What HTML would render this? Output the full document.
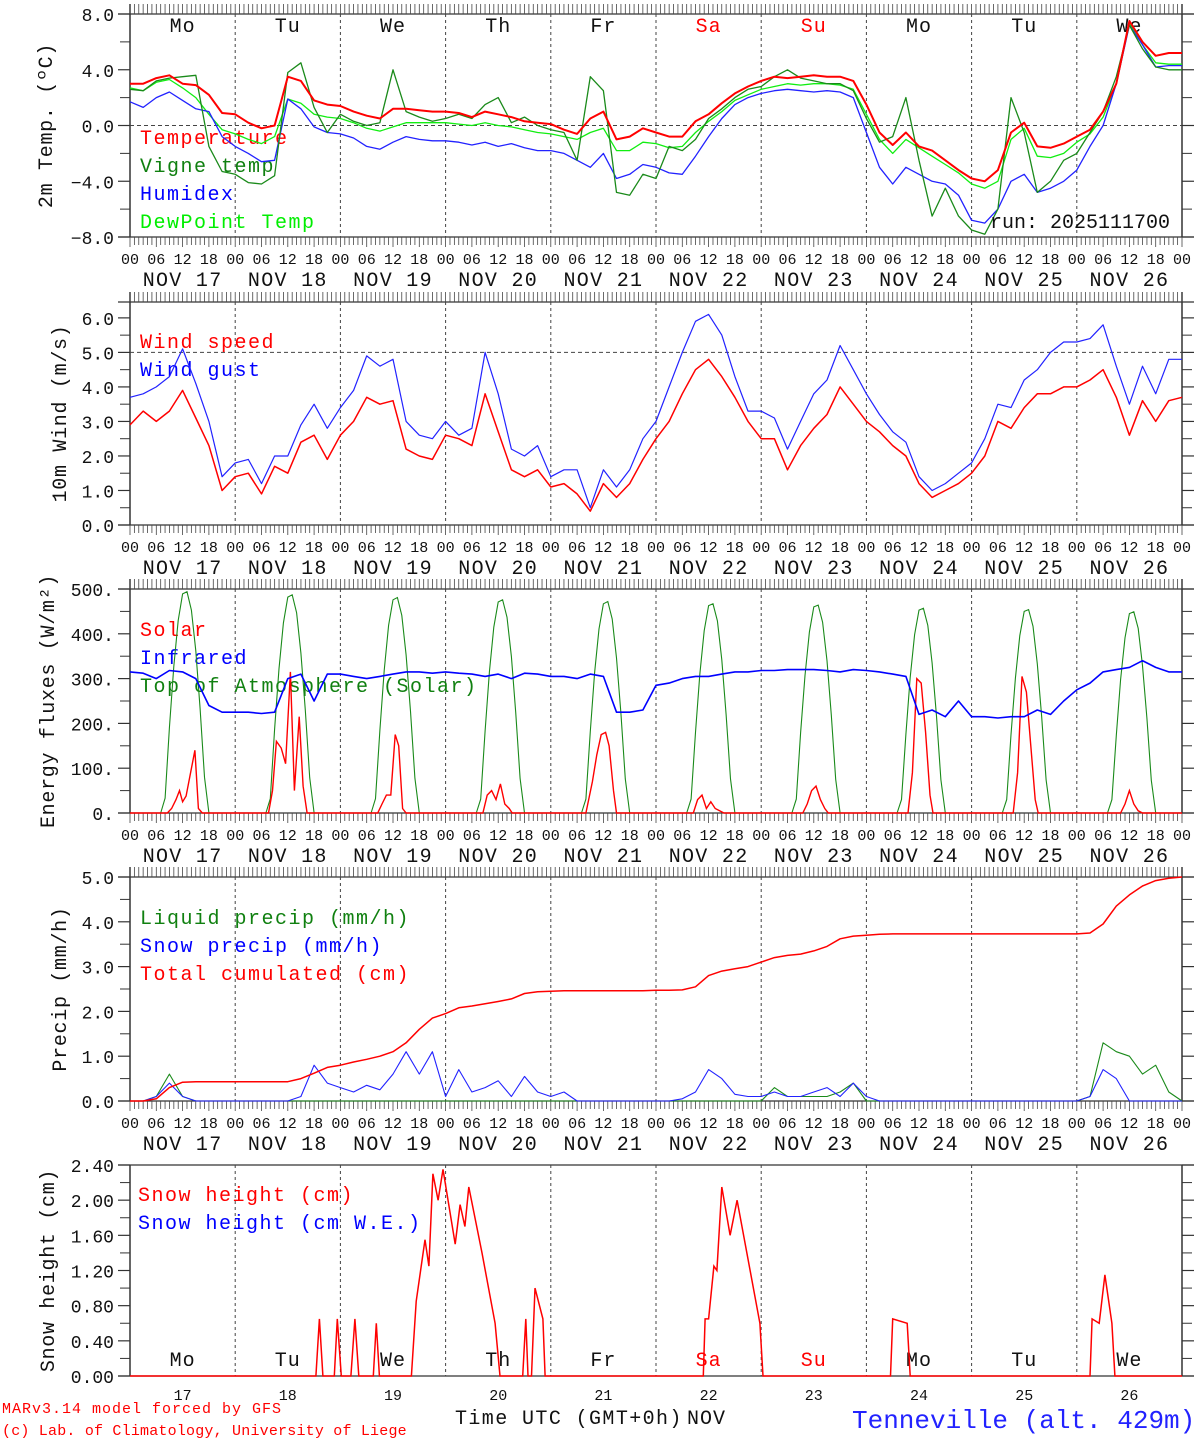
<!DOCTYPE html>
<html><head><meta charset="utf-8"><style>
html,body{margin:0;padding:0;background:#fff}
svg{display:block;font-family:"Liberation Mono","DejaVu Sans Mono",monospace}
</style></head><body>
<svg id="chart" width="1194" height="1440" viewBox="0 0 1194 1440" xmlns="http://www.w3.org/2000/svg"></svg>
<script>
const dayDates=["17","18","19","20","21","22","23","24","25","26"];
const dayNames=["Mo","Tu","We","Th","Fr","Sa","Su","Mo","Tu","We"];
const hourLabels=["00","06","12","18"];
const tempT=[3.0,3.0,3.4,3.6,3.0,2.9,2.2,0.9, 0.8,0.2,-0.2,0.0,3.5,3.2,1.8,1.5, 1.4,1.0,0.7,0.5,1.2,1.2,1.1,1.0, 1.0,0.9,0.6,1.0,0.8,0.6,0.3,0.2, 0.1,-0.3,-0.6,0.5,1.0,-1.0,-0.8,-0.2, -0.5,-0.8,-0.8,0.3,0.8,1.6,2.3,2.8, 3.2,3.5,3.4,3.5,3.6,3.5,3.5,3.2, 1.5,-0.5,-1.4,-0.5,-1.5,-1.8,-2.5,-3.2, -3.8,-4.0,-3.2,-0.5,0.2,-1.5,-1.6,-1.3, -0.8,-0.3,1.0,3.0,7.5,6.0,5.0,5.2,5.2];
const tempVigne=[2.6,2.5,3.2,3.4,3.5,3.6,-1.5,-3.3, -3.5,-4.1,-4.2,-3.6,3.8,4.5,1.3,-0.5, 0.8,0.3,0.0,0.2,4.0,1.0,0.6,0.3, 0.5,0.8,0.5,1.5,2.0,0.2,0.6,0.0, -0.3,-0.5,-2.5,3.5,2.5,-4.8,-5.0,-3.5, -3.8,-1.5,-1.8,-1.0,0.5,1.2,2.0,2.6, 2.8,3.5,4.0,3.4,3.2,3.0,3.0,2.5, 0.5,-1.2,-0.8,2.0,-2.5,-6.5,-4.5,-6.5, -7.5,-7.8,-6.0,2.0,-0.5,-4.8,-4.0,-2.5, -2.0,-0.5,1.0,3.5,7.2,5.5,4.2,4.0,4.0];
const tempHumidex=[1.7,1.3,2.0,2.4,1.8,1.2,1.0,-0.8, -1.5,-2.0,-2.6,-2.5,1.9,1.2,-0.1,-0.5, -0.6,-0.9,-1.5,-1.7,-1.2,-0.8,-1.0,-1.1, -1.1,-1.2,-1.4,-1.2,-1.5,-1.3,-1.6,-1.8, -1.8,-2.0,-2.5,-3.0,-2.0,-3.8,-3.5,-2.8, -3.0,-3.4,-3.5,-2.2,-0.8,0.5,1.5,2.0, 2.3,2.5,2.6,2.5,2.4,2.5,2.4,2.0, -0.5,-3.0,-4.2,-3.0,-3.5,-4.0,-4.2,-5.0, -6.8,-7.0,-6.0,-4.0,-3.5,-4.8,-4.5,-4.0, -3.2,-1.5,0.0,3.0,7.2,5.8,4.2,4.3,4.3];
const tempDew=[2.7,2.5,3.1,3.3,2.7,2.0,0.8,-0.3, -0.6,-1.0,-1.3,-0.8,1.9,1.6,0.8,0.6, 0.5,0.2,-0.2,-0.4,-0.1,0.2,0.2,0.2, 0.2,0.1,0.0,0.2,0.0,-0.1,-0.3,-0.5, -0.6,-0.8,-1.0,-0.5,-0.2,-1.8,-1.8,-1.2, -1.3,-1.6,-1.5,-0.5,0.3,1.0,1.8,2.2, 2.6,2.8,3.0,2.9,3.0,3.0,2.9,2.6, 0.8,-1.0,-2.0,-1.0,-1.6,-2.2,-2.8,-3.4, -4.2,-4.5,-4.0,-1.0,-0.2,-2.2,-2.3,-2.0, -1.2,-0.6,0.6,3.0,7.3,5.8,4.5,4.4,4.4];
const windSpeed=[2.9,3.3,3.0,3.3,3.9,3.1,2.3,1.0, 1.4,1.5,0.9,1.7,1.5,2.4,2.6,1.9, 2.6,3.0,3.7,3.5,3.6,2.2,2.0,1.9, 2.6,2.5,2.3,3.8,2.7,1.6,1.4,1.6, 1.1,1.2,0.9,0.4,1.2,0.8,1.2,1.9, 2.5,3.0,3.8,4.5,4.8,4.3,3.7,3.0, 2.5,2.5,1.6,2.3,2.8,3.2,4.0,3.5, 3.0,2.7,2.3,2.0,1.2,0.8,1.0,1.2, 1.5,2.0,3.0,2.8,3.4,3.8,3.8,4.0, 4.0,4.2,4.5,3.7,2.6,3.6,3.0,3.6,3.7];
const windGust=[3.7,3.8,4.0,4.3,5.1,4.1,3.0,1.4, 1.8,1.9,1.2,2.0,2.0,2.9,3.5,2.8, 3.4,3.9,4.9,4.6,4.8,3.0,2.6,2.5, 3.0,2.6,2.8,5.0,3.8,2.2,2.0,2.3, 1.4,1.6,1.6,0.5,1.6,1.1,1.6,2.5, 3.0,4.0,5.0,5.9,6.1,5.5,4.3,3.3, 3.3,3.1,2.2,3.0,3.8,4.2,5.2,4.5, 3.8,3.2,2.7,2.4,1.4,1.0,1.2,1.5, 1.8,2.5,3.5,3.4,4.2,4.5,5.0,5.3, 5.3,5.4,5.8,4.6,3.5,4.6,3.8,4.8,4.8];
const infrared=[315,312,300,318,315,300,240,225, 225,225,222,225,300,310,250,310, 310,305,300,305,310,315,315,312, 315,312,310,305,310,300,312,310, 305,305,300,310,305,225,225,230, 285,290,300,305,305,310,315,315, 318,318,320,320,320,318,315,320, 318,315,310,305,220,230,215,250, 215,215,212,215,215,230,220,250, 275,290,315,320,325,340,325,315,315];
const toaHours=[7,8,9,10,11,12,13,14,15,16,17,18];
const toaDaily=[[0,33,190,327,430,489,494,453,362,233,80,0],[0,32,187,322,424,482,487,447,357,230,79,0],[0,32,185,318,419,476,481,441,353,227,78,0],[0,31,183,315,415,471,476,437,349,225,77,0],[0,31,182,313,411,467,472,433,346,223,76,0],[0,31,180,309,407,463,467,429,342,220,76,0],[0,31,179,307,404,460,464,426,340,219,75,0],[0,30,176,303,398,453,457,419,335,216,74,0],[0,30,175,301,396,450,454,417,333,214,74,0],[0,30,173,298,391,445,449,412,329,212,73,0]];
const solarT=[0,8.5,9.5,10.5,11.3,12,12.8,14.8,15.6,16.5, 31.6,32.5,33.4,34.5,35.5,36.6,37.5,38.6,39.5,40.4, 56.5,57.5,58.5,59.5,60.5,61.3,62.2,63, 80.5,81.5,82.5,83.5,84.5,85.5,86.5,87.2, 104,105.5,106.5,107.5,108.5,109.3,110.3,111, 128.5,129.5,130.5,131.5,132.5,133.5,134.5,135.5, 153.5,154.5,155.5,156.5,157.5,158.5,159.3, 177.5,178.5,179.5,180.5,181.5,182.5,183.2, 201.5,202.5,203.5,204.5,205.5,206.5,207.2, 226,227,228,229,230,231,240];
const solarV=[0,0,10,30,50,25,38,140,10,0, 0,50,160,145,110,315,50,215,60,0, 0,20,40,40,175,150,10,0, 0,40,50,30,65,20,10,0, 0,70,130,175,180,150,50,0, 0,30,40,10,25,10,5,0, 0,20,50,60,30,10,0, 0,90,300,290,180,40,0, 0,90,305,270,150,30,0, 0,20,50,20,5,0,0];
const precipTotal=[0,0,0.05,0.3,0.42,0.43,0.43,0.43, 0.43,0.43,0.43,0.43,0.43,0.5,0.62,0.75, 0.8,0.87,0.93,1.0,1.1,1.3,1.6,1.85, 1.95,2.08,2.12,2.17,2.22,2.28,2.4,2.44, 2.45,2.46,2.46,2.46,2.46,2.46,2.46,2.46, 2.47,2.47,2.48,2.55,2.8,2.9,2.95,3.0, 3.1,3.2,3.25,3.28,3.35,3.45,3.62,3.68, 3.7,3.72,3.73,3.73,3.73,3.73,3.73,3.73, 3.73,3.73,3.73,3.73,3.73,3.73,3.73,3.73, 3.73,3.75,3.95,4.35,4.6,4.8,4.92,4.97,5.0];
const precipLiquid=[0,0,0.1,0.6,0.1,0,0,0, 0,0,0,0,0,0,0,0, 0,0,0,0,0,0,0,0, 0,0,0,0,0,0,0,0, 0,0,0,0,0,0,0,0, 0,0,0,0,0,0,0,0, 0,0.3,0.1,0.1,0.1,0.1,0.2,0.4, 0,0,0,0,0,0,0,0, 0,0,0,0,0,0,0,0, 0,0.1,1.3,1.1,1.0,0.6,0.8,0.2,0];
const precipSnow=[0,0,0.1,0.4,0.1,0,0,0, 0,0,0,0,0,0.1,0.8,0.4, 0.3,0.2,0.35,0.25,0.6,1.1,0.6,1.1, 0.1,0.7,0.2,0.3,0.45,0.1,0.55,0.2, 0.1,0.2,0,0,0,0,0,0, 0,0,0.05,0.2,0.7,0.5,0.15,0.1, 0.1,0.2,0.1,0.1,0.2,0.3,0.1,0.4, 0.1,0,0,0,0,0,0,0, 0,0,0,0,0,0,0,0, 0,0.1,0.7,0.5,0,0,0,0,0];
const snowT=[0,42.4,43.2,44.0,46.6,47.3,48.2,50.4,51.3,52.2,55.5,56.2,56.9,64.2,65.3,67.3,68.2,69.1,70.3,71.4,74.2,75.3,76.4,77.3,80.3,83.3,84.4,89.6,90.3,90.8,91.6,92.4,94.2,94.7,130.8,131.2,132,133.2,133.9,135,136.9,138.5,143.7,144.4,173.5,174,177.3,178,219,219.5,221.1,222.4,224,224.7,240];
const snowV=[0,0,0.65,0,0,0.65,0,0,0.65,0,0,0.6,0,0,0.85,1.55,1.25,2.3,2.0,2.35,1.5,1.95,1.7,2.15,1.4,0.6,0,0,0.65,0,0,1.0,0.65,0,0,0.65,0.65,1.25,1.2,2.15,1.6,2.0,0.6,0,0,0.65,0.6,0,0,0.65,0.6,1.15,0.6,0,0];

const NS="http://www.w3.org/2000/svg";
const svg=document.getElementById('chart');
const X0=130,X1=1182;
function xs(h){return X0+h*(X1-X0)/240;}
function el(tag,attrs,parent){const e=document.createElementNS(NS,tag);for(const k in attrs)e.setAttribute(k,attrs[k]);(parent||svg).appendChild(e);return e;}
function txt(s,x,y,size,fill,anchor,parent,ls){const t=el('text',{x:x,y:y,'font-size':size,fill:fill||'#000','text-anchor':anchor||'start'},parent);if(ls)t.setAttribute('letter-spacing',ls);t.textContent=s;return t;}

function panel(cfg){
  const g=el('g',{});
  
  
  const ys=v=>cfg.bottom-(v-cfg.ymin)*(cfg.bottom-cfg.top)/(cfg.ymax-cfg.ymin);
  cfg.ys=ys;
  el('line',{x1:X0,y1:cfg.frameTop,x2:X0,y2:cfg.bottom,stroke:'#333','stroke-width':1.5},g);
  el('line',{x1:X1,y1:cfg.frameTop,x2:X1,y2:cfg.bottom,stroke:'#333','stroke-width':1.5},g);
  el('line',{x1:118,y1:cfg.top,x2:1194,y2:cfg.top,stroke:'#333','stroke-width':1.2},g);
  el('line',{x1:118,y1:cfg.bottom,x2:1194,y2:cfg.bottom,stroke:'#333','stroke-width':1.2},g);
  for(const tv of cfg.ticks){const y=ys(tv);
    el('line',{x1:118,y1:y,x2:X0,y2:y,stroke:'#333','stroke-width':1.2},g);
    el('line',{x1:X1,y1:y,x2:1194,y2:y,stroke:'#333','stroke-width':1.2},g);
    const lab=txt(cfg.fmt(tv),114,y+7,18,'#111','end',g);
    
    }
  for(const tv of cfg.minor){const y=ys(tv);
    el('line',{x1:120,y1:y,x2:X0,y2:y,stroke:'#333','stroke-width':1},g);
    el('line',{x1:X1,y1:y,x2:1192,y2:y,stroke:'#333','stroke-width':1},g);}
  if(cfg.hatch){for(let h=0;h<=240;h++){const x=xs(h);
    el('line',{x1:x,y1:cfg.top-10,x2:x,y2:cfg.top,stroke:'#444','stroke-width':0.8},g);
    el('line',{x1:x,y1:cfg.bottom,x2:x,y2:cfg.bottom+(h%6==0?10:8),stroke:'#444','stroke-width':0.8},g);}}
  for(let d=1;d<10;d++){const x=xs(d*24);
    el('line',{x1:x,y1:cfg.top,x2:x,y2:cfg.bottom,stroke:'#444','stroke-width':1,'stroke-dasharray':'3,3'},g);}
  if(cfg.ref!==undefined){const y=ys(cfg.ref);
    el('line',{x1:X0,y1:y,x2:X1,y2:y,stroke:'#444','stroke-width':1,'stroke-dasharray':'4,3'},g);}
  if(cfg.hourLabels){
    for(let d=0;d<=10;d++){for(let k=0;k<4;k++){const h=d*24+k*6;if(h>240)break;
      txt(hourLabels[k],xs(h),cfg.bottom+27,15,'#111','middle',g);}}
    for(let d=0;d<10;d++){const l=txt('NOV '+dayDates[d],xs(d*24+12),cfg.bottom+49,20,'#111','middle',g,'1.3');
      
      }
  }
  const yt=txt(cfg.ytitle,0,0,20,'#111','middle',g,'0.7');
  yt.setAttribute('transform','translate('+cfg.ytx+','+((cfg.top+cfg.bottom)/2)+') rotate(-90)');
  
  
  cfg.legend.forEach((l,i)=>{const t=txt(l[0],cfg.legX,cfg.legY+i*28,20,l[1],'start',g,'1.5');
    
    });
  cfg.g=g;
  return cfg;
}
function line3h(p,vals,color,name,w){
  const d=vals.map((v,i)=>(i?'L':'M')+xs(i*3).toFixed(1)+' '+p.ys(v).toFixed(1)).join(' ');
  const e=el('path',{d:d,fill:'none',stroke:color,'stroke-width':w||1.3,'stroke-linejoin':'round'},p.g);
  
  
}
function lineTV(p,T,V,color,name,w){
  const d=T.map((t,i)=>(i?'L':'M')+xs(t).toFixed(1)+' '+p.ys(V[i]).toFixed(1)).join(' ');
  const e=el('path',{d:d,fill:'none',stroke:color,'stroke-width':w||1.3},p.g);
  
  
}
function dayNameLabels(y,parent){
  for(let d=0;d<10;d++){const c=(d==5||d==6)?'#f00':'#111';
    const t=txt(dayNames[d],xs(d*24+12),y,20,c,'middle',parent,'1');
    
    }
}

const p1=panel({name:'temperature-panel',top:14,frameTop:4,bottom:237,ymin:-8,ymax:8,ticks:[-8,-4,0,4,8],minor:[-6,-2,2,6],fmt:v=>(v<0?'−':'')+Math.abs(v).toFixed(1),hatch:true,ref:0,hourLabels:true,ytitle:'2m Temp. (ºC)',ytx:52,legend:[['Temperature','#f00'],['Vigne temp','#108010'],['Humidex','#00f'],['DewPoint Temp','#0e0']],legX:140,legY:144});
dayNameLabels(32,p1.g);
line3h(p1,tempDew,'#1e1','dewpoint-line',1.3);
line3h(p1,tempHumidex,'#22f','humidex-line',1.3);
line3h(p1,tempVigne,'#1a8a1a','vigne-temp-line',1.3);
line3h(p1,tempT,'#f00','temperature-line',2);
txt('run: 2025111700',990,228,20,'#111','start',p1.g);

const p2=panel({name:'wind-panel',top:302,frameTop:292,bottom:525,ymin:0,ymax:6.46,ticks:[0,1,2,3,4,5,6],minor:[0.5,1.5,2.5,3.5,4.5,5.5],fmt:v=>v.toFixed(1),hatch:true,ref:5,hourLabels:true,ytitle:'10m Wind (m/s)',ytx:66,legend:[['Wind speed','#f00'],['Wind gust','#00f']],legX:140,legY:348});
line3h(p2,windGust,'#22f','wind-gust-line',1.2);
line3h(p2,windSpeed,'#f00','wind-speed-line',1.5);

const p3=panel({name:'energy-flux-panel',top:589,frameTop:579,bottom:813,ymin:0,ymax:500,ticks:[0,100,200,300,400,500],minor:[50,150,250,350,450],fmt:v=>v+'.',hatch:true,hourLabels:true,ytitle:'Energy fluxes (W/m²)',ytx:54,legend:[['Solar','#f00'],['Infrared','#00f'],['Top of Atmosphere (Solar)','#108010']],legX:140,legY:636});
{const T=[],V=[];T.push(0);V.push(0);
 toaDaily.forEach((row,d)=>row.forEach((v,k)=>{T.push(d*24+toaHours[k]);V.push(v);}));
 T.push(240);V.push(0);
 lineTV(p3,T,V,'#1a8a1a','toa-solar-line',1.1);}
lineTV(p3,solarT,solarV,'#f00','solar-line',1.4);
line3h(p3,infrared,'#00f','infrared-line',1.6);

const p4=panel({name:'precip-panel',top:877,frameTop:867,bottom:1101,ymin:0,ymax:5,ticks:[0,1,2,3,4,5],minor:[0.5,1.5,2.5,3.5,4.5],fmt:v=>v.toFixed(1),hatch:true,hourLabels:true,ytitle:'Precip (mm/h)',ytx:66,legend:[['Liquid precip (mm/h)','#108010'],['Snow precip (mm/h)','#00f'],['Total cumulated (cm)','#f00']],legX:140,legY:924});
line3h(p4,precipLiquid,'#1a8a1a','liquid-precip-line',1.1);
line3h(p4,precipSnow,'#22f','snow-precip-line',1.1);
line3h(p4,precipTotal,'#f00','total-cumulated-line',1.5);

const p5=panel({name:'snow-panel',top:1165,frameTop:1165,bottom:1376,ymin:0,ymax:2.4,ticks:[0,0.4,0.8,1.2,1.6,2.0,2.4],minor:[0.2,0.6,1.0,1.4,1.8,2.2],fmt:v=>v.toFixed(2),hatch:false,hourLabels:false,ytitle:'Snow height (cm)',ytx:54,legend:[['Snow height (cm)','#f00'],['Snow height (cm W.E.)','#00f']],legX:138,legY:1201});
dayNameLabels(1366,p5.g);
lineTV(p5,snowT,snowV,'#f00','snow-height-line',1.5);
for(let d=0;d<10;d++){txt(dayDates[d],xs(d*24+12),1400,15,'#111','middle',p5.g);}

const f1=txt('Time UTC (GMT+0h)',455,1424,20,'#111','start',null,'1.4');


const f2=txt('NOV',687,1424,20,'#111','start',null,'1');


const f3=txt('MARv3.14 model forced by GFS',2,1413,15,'#f00','start',null,'1');


const f4=txt('(c) Lab. of Climatology, University of Liege',2,1435,15,'#f00','start',null,'0.2');


const f5=txt('Tenneville (alt. 429m)',852,1428,26,'#22f','start');


</script>
</body></html>
